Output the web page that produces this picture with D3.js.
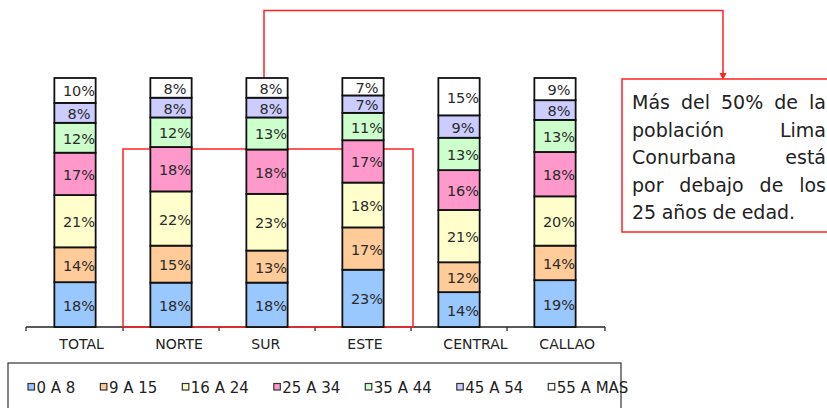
<!DOCTYPE html>
<html>
<head>
<meta charset="utf-8">
<script src="https://cdn.jsdelivr.net/npm/d3@7"></script>
<style>
  body { margin: 0; background: #fff; }
  svg { display: block; font-family: "DejaVu Sans", sans-serif; }
</style>
</head>
<body>
<svg id="chart" width="827" height="408"></svg>
<script>
// datos (porcentajes por grupo de edad)
const zonas = ['TOTAL', 'NORTE', 'SUR', 'ESTE', 'CENTRAL', 'CALLAO'];
const grupos = ['0 A 8', '9 A 15', '16 A 24', '25 A 34', '35 A 44', '45 A 54', '55 A MAS'];
const colores = ['#99c8ff', '#ffcc99', '#ffffcc', '#ff99cc', '#ccffcc', '#ccccff', '#ffffff'];
const g0a8   = [18, 18, 18, 23, 14, 19];
const g9a15  = [14, 15, 13, 17, 12, 14];
const g16a24 = [21, 22, 23, 18, 21, 20];
const g25a34 = [17, 18, 18, 17, 16, 18];
const g35a44 = [12, 12, 13, 11, 13, 13];
const g45a54 = [8, 8, 8, 7, 9, 8];
const g55mas = [10, 8, 8, 7, 15, 9];
const nota = ['Más del 50% de la', 'población Lima', 'Conurbana está', 'por debajo de los', '25 años de edad.'];

const series = [g0a8, g9a15, g16a24, g25a34, g35a44, g45a54, g55mas];
const tabla = zonas.map((z, i) => {
	const row = { zona: z };
	grupos.forEach((g, k) => row[g] = series[k][i]);
	return row;
});

const svg = d3.select('#chart');
const x = d3.scaleBand().domain(zonas).range([27, 603]).paddingInner(0.57).paddingOuter(0.285);
const y = d3.scaleLinear().domain([0, 1]).range([327, 78]);
const color = d3.scaleOrdinal().domain(grupos).range(colores);
const stack = d3.stack().keys(grupos).offset(d3.stackOffsetExpand);
const capas = stack(tabla);

// eje de categorías con marcas entre grupos
const ejeY = 327;
svg.append('line').attr('x1', 26).attr('x2', 605).attr('y1', ejeY).attr('y2', ejeY)
	.attr('stroke', '#222').attr('stroke-width', 1.3);
const bordes = zonas.map(z => x(z) - x.step() * x.paddingInner() / 2).concat([605]);
bordes[0] = 26;
svg.selectAll('.tick').data(bordes).enter().append('line')
	.attr('x1', d => d).attr('x2', d => d).attr('y1', ejeY).attr('y2', ejeY + 4)
	.attr('stroke', '#222').attr('stroke-width', 1.2);
svg.selectAll('.cat').data(zonas).enter().append('text')
	.attr('x', d => x(d) + 5).attr('y', 349)
	.attr('font-size', 14).attr('fill', '#222').text(d => d);

// recuadro rojo y conector hacia la nota
const rojo = '#ff2222';
svg.append('rect').attr('x', 123).attr('y', 149).attr('width', 290).attr('height', ejeY - 149)
	.attr('fill', 'none').attr('stroke', rojo).attr('stroke-width', 1.5);
svg.append('path').attr('d', `M264,90 V10.5 H723 V74`)
	.attr('fill', 'none').attr('stroke', rojo).attr('stroke-width', 1.5);
svg.append('path').attr('d', 'M719.5,73 L726.5,73 L723,80 Z').attr('fill', rojo);

// barras apiladas al 100%
const capa = svg.selectAll('.capa').data(capas).enter().append('g')
	.attr('fill', d => color(d.key));
capa.selectAll('rect').data(d => d).enter().append('rect')
	.attr('x', d => x(d.data.zona)).attr('width', x.bandwidth())
	.attr('y', d => y(d[1])).attr('height', d => y(d[0]) - y(d[1]))
	.attr('stroke', '#111').attr('stroke-width', 1.8);
capa.selectAll('text').data(d => d.map(v => ({ v, key: d.key }))).enter().append('text')
	.attr('x', d => x(d.v.data.zona) + x.bandwidth() / 2 + 4)
	.attr('y', d => (y(d.v[0]) + y(d.v[1])) / 2 + 6)
	.attr('text-anchor', 'middle').attr('font-size', 14.5).attr('fill', '#2a2a2a')
	.text(d => d.v.data[d.key] + '%');

// nota explicativa (texto justificado)
svg.append('rect').attr('x', 622).attr('y', 79).attr('width', 215).attr('height', 153)
	.attr('fill', '#fff').attr('stroke', rojo).attr('stroke-width', 1.5);
const notaX0 = 632, notaX1 = 826;
nota.forEach((linea, i) => {
	const yy = 109 + i * 27.5;
	const palabras = linea.split(' ');
	const nodos = palabras.map(p => svg.append('text').attr('y', yy).attr('font-size', 19)
		.attr('fill', '#222').text(p));
	const anchos = nodos.map(n => n.node().getComputedTextLength());
	const ultima = i === nota.length - 1;
	const hueco = ultima || palabras.length < 2 ? 5.5
		: (notaX1 - notaX0 - d3.sum(anchos)) / (palabras.length - 1);
	let cx = notaX0;
	nodos.forEach((n, k) => { n.attr('x', cx); cx += anchos[k] + hueco; });
});

// leyenda
svg.append('rect').attr('x', 8).attr('y', 363).attr('width', 613).attr('height', 60)
	.attr('fill', 'none').attr('stroke', '#333').attr('stroke-width', 1.2);
const leyenda = svg.append('g');
let lx = 28;
grupos.forEach((g, i) => {
	leyenda.append('rect').attr('x', lx).attr('y', 383.5).attr('width', 6.5).attr('height', 6.5)
		.attr('fill', colores[i]).attr('stroke', '#333').attr('stroke-width', 1.2);
	const t = leyenda.append('text').attr('x', lx + 8.5).attr('y', 393).attr('font-size', 15)
		.attr('fill', '#222').text(g);
	lx += 8.5 + t.node().getComputedTextLength() + 25;
});
</script>
</body>
</html>
